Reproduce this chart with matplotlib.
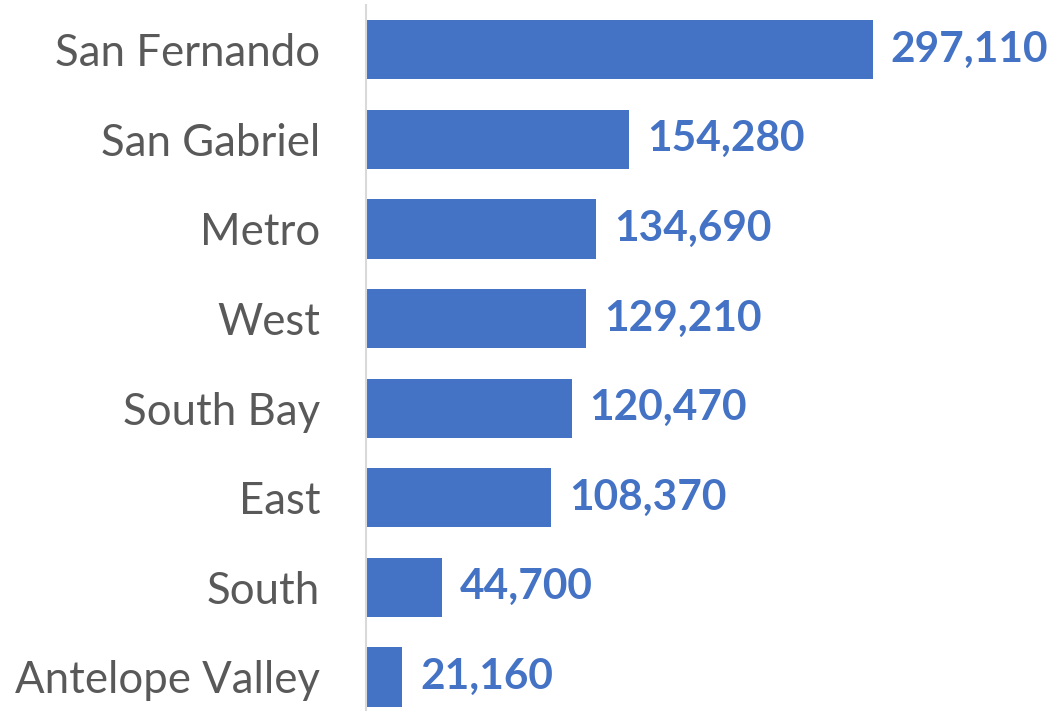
import matplotlib
matplotlib.use("Agg")
import matplotlib.pyplot as plt

# Data
regions = ["San Fernando", "San Gabriel", "Metro", "West",
           "South Bay", "East", "South", "Antelope Valley"]
counts = [297110, 154280, 134690, 129210, 120470, 108370, 44700, 21160]

bar_color = "#4472C4"
label_color = "#595959"

plt.rcParams['font.family'] = ['Lato', 'DejaVu Sans']

fig = plt.figure(figsize=(10.51, 7.11), dpi=100)
ax = fig.add_axes([366 / 1051, 0.0, 1 - 366 / 1051, 1 - 5 / 711])

pos = list(range(len(regions)))
ax.barh(pos, counts, height=0.66, color=bar_color)

ax.set_xlim(0, 401500)
ax.set_ylim(7.38, -0.5)

ax.set_yticks(pos)
ax.set_yticklabels(regions, fontsize=31.5, color=label_color)
ax.tick_params(axis='y', length=0, pad=33)
ax.set_xticks([])

for s in ["top", "right", "bottom"]:
    ax.spines[s].set_visible(False)
ax.spines["left"].set_color("#D9D9D9")
ax.spines["left"].set_linewidth(1.5)

# Value labels at the end of each bar
for p, v in zip(pos, counts):
    ax.text(v + 10500, p, f"{v:,}", va='center', ha='left',
            fontsize=30.5, fontweight='bold', color=bar_color)

fig.savefig("out.png", dpi=100)
